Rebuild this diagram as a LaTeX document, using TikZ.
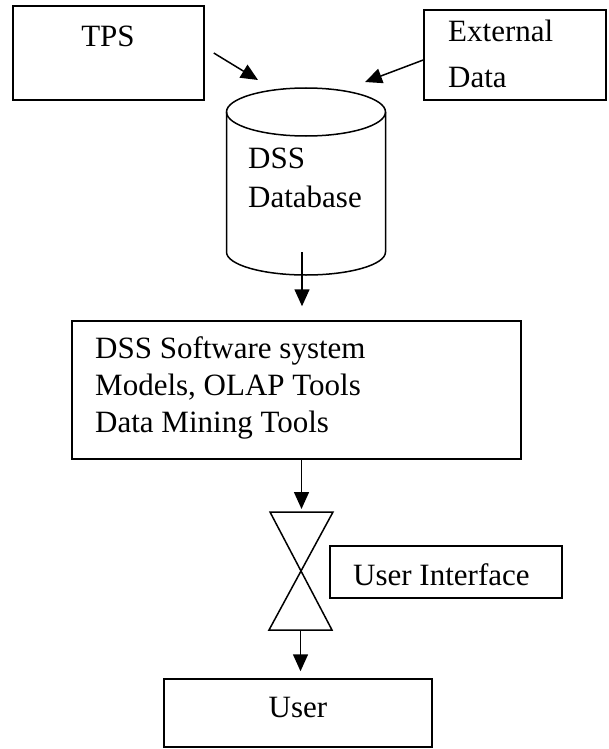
\documentclass[tikz,border=0pt]{standalone}
\usepackage{fontspec}
\setmainfont{Liberation Serif}
\usetikzlibrary{arrows.meta}
\tikzset{
  box/.style={draw, line width=1.5pt, rectangle, inner sep=0pt},
  arr/.style={line width=1.5pt, -{Triangle[length=17pt,width=15pt]}},
  lbl/.style={anchor=base west, inner sep=0pt, font=\fontsize{31}{37}\selectfont},
}
\begin{document}
\begin{tikzpicture}[x=1pt,y=-1pt]
\useasboundingbox (0,0) rectangle (609,749);
\path
(258,80) coordinate (tpsin)
(365,82) coordinate (extin)
(306,112) coordinate (dbtop)
(302,252) coordinate (dbout)
(270,512) coordinate (hgtl)
(333,512) coordinate (hgtr)
(269,630) coordinate (hgbl)
(332,630) coordinate (hgbr)
(301.5,512) coordinate (hgtop)
(300.5,630) coordinate (hgbot)
;
% boxes
\node[box, minimum width=191pt, minimum height=94pt] (tps) at (108.5,53) {};
\node[box, minimum width=182pt, minimum height=90pt] (ext) at (515,55) {};
\node[box, minimum width=449pt, minimum height=138pt] (soft) at (296.5,390) {};
\node[box, minimum width=232pt, minimum height=52pt] (ui) at (446,572) {};
\node[box, minimum width=268pt, minimum height=68pt] (user) at (298,713) {};
% database cylinder
\draw[line width=1.5pt] (dbtop) ellipse [x radius=79.5, y radius=24];
\draw[line width=1.5pt] (226.5,112) -- (226.5,252) arc[start angle=180, end angle=0, x radius=79.5, y radius=23] -- (385.5,112);
% hourglass
\draw[line width=1.5pt] (hgtl) -- (hgtr) -- (hgbl) -- (hgbr) -- cycle;
% texts
\node[lbl, anchor=base] at (108,47) {TPS};
\node[lbl] at (448,42) {External};
\node[lbl] at (448,88) {Data};
\node[lbl] at (248,168) {DSS};
\node[lbl] at (248,207) {Database};
\node[lbl] at (95,358) {DSS Software system};
\node[lbl] at (95,395) {Models, OLAP Tools};
\node[lbl] at (95,432) {Data Mining Tools};
\node[lbl] at (353,585) {User Interface};
\node[lbl, anchor=base] at (298,717) {User};
% arrows
\draw[arr] ([xshift=9pt]tps.east) -- (tpsin);
\draw[arr] ([yshift=-5pt]ext.west) -- (extin);
\draw[arr, shorten >=14pt] (dbout) -- (dbout |- soft.north);
\draw[arr, shorten >=3pt] (soft.south -| hgtop) -- (hgtop);
\draw[arr, shorten >=7pt] (hgbot) -- (hgbot |- user.north);
\end{tikzpicture}
\end{document}
